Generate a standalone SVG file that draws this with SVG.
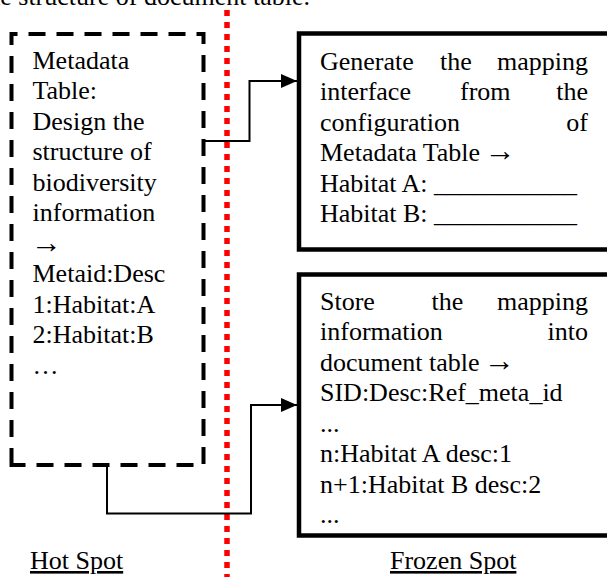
<svg xmlns="http://www.w3.org/2000/svg" width="607" height="577" viewBox="0 0 607 577">
<style>
text{font-family:"Liberation Serif","Times New Roman",serif;font-size:26px;fill:#000}
.ar{font-size:31px}
.dash{fill:none;stroke:#000;stroke-width:4;stroke-dasharray:17 11}
.solid{fill:none;stroke:#000;stroke-width:4.5}
.conn{fill:none;stroke:#000;stroke-width:2}
.e{text-anchor:end}
</style>
<defs>
<marker id="arr" markerWidth="16" markerHeight="14" refX="16" refY="7" orient="auto" markerUnits="userSpaceOnUse">
<path d="M0,0 L16,7 L0,14 Z" fill="#000"/>
</marker>
</defs>
<rect width="607" height="577" fill="#fff"/>
<text x="-20" y="5">the structure of document table.</text>
<g id="separator">
<line x1="227" y1="10" x2="227" y2="577" stroke="#f00" stroke-width="5.5" stroke-dasharray="6 6"/>
</g>
<g id="hotspot">
<path class="dash" d="M11.5,465 V34 H203.5 V465 Z"/>
<text x="32.5" y="68.5">Metadata</text>
<text x="32.5" y="99">Table:</text>
<text x="32.5" y="129.5">Design the</text>
<text x="32.5" y="160">structure of</text>
<text x="32.5" y="190.5">biodiversity</text>
<text x="32.5" y="221">information</text>
<text x="31" y="253" class="ar">→</text>
<text x="32.5" y="282">Metaid:Desc</text>
<text x="32.5" y="312.5">1:Habitat:A</text>
<text x="32.5" y="343">2:Habitat:B</text>
<text x="32.5" y="373.5">…</text>
</g>
<g id="generate">
<path class="solid" d="M620,33.5 H299 V249.5 H620"/>
<text x="320" y="69.5">Generate</text><text x="440" y="69.5">the</text><text class="e" x="588" y="69.5">mapping</text>
<text x="320" y="100">interface</text><text x="460" y="100">from</text><text class="e" x="588" y="100">the</text>
<text x="320" y="130.5">configuration</text><text class="e" x="588" y="130.5">of</text>
<text x="320" y="161">Metadata Table <tspan class="ar" dx="-2">→</tspan></text>
<text x="320" y="191.5">Habitat A: ___________</text>
<text x="320" y="222">Habitat B: ___________</text>
</g>
<g id="store">
<path class="solid" d="M620,274.5 H299 V535.5 H620"/>
<text x="320" y="309.5">Store</text><text x="431.5" y="309.5">the</text><text class="e" x="588" y="309.5">mapping</text>
<text x="320" y="340">information</text><text class="e" x="588" y="340">into</text>
<text x="320" y="370.5">document table <tspan class="ar" dx="-2">→</tspan></text>
<text x="320" y="401">SID:Desc:Ref_meta_id</text>
<text x="320" y="431.5">...</text>
<text x="320" y="462">n:Habitat A desc:1</text>
<text x="320" y="492.5">n+1:Habitat B desc:2</text>
<text x="320" y="523">...</text>
</g>
<g id="labels">
<text x="30" y="569" text-decoration="underline">Hot Spot</text>
<text x="390" y="569" text-decoration="underline">Frozen Spot</text>
</g>
<g id="connectors">
<path class="conn" d="M205,141 H249.5 V81 H297" marker-end="url(#arr)"/>
<path class="conn" d="M107,467 V513.5 H251 V405 H297" marker-end="url(#arr)"/>
</g>
</svg>
